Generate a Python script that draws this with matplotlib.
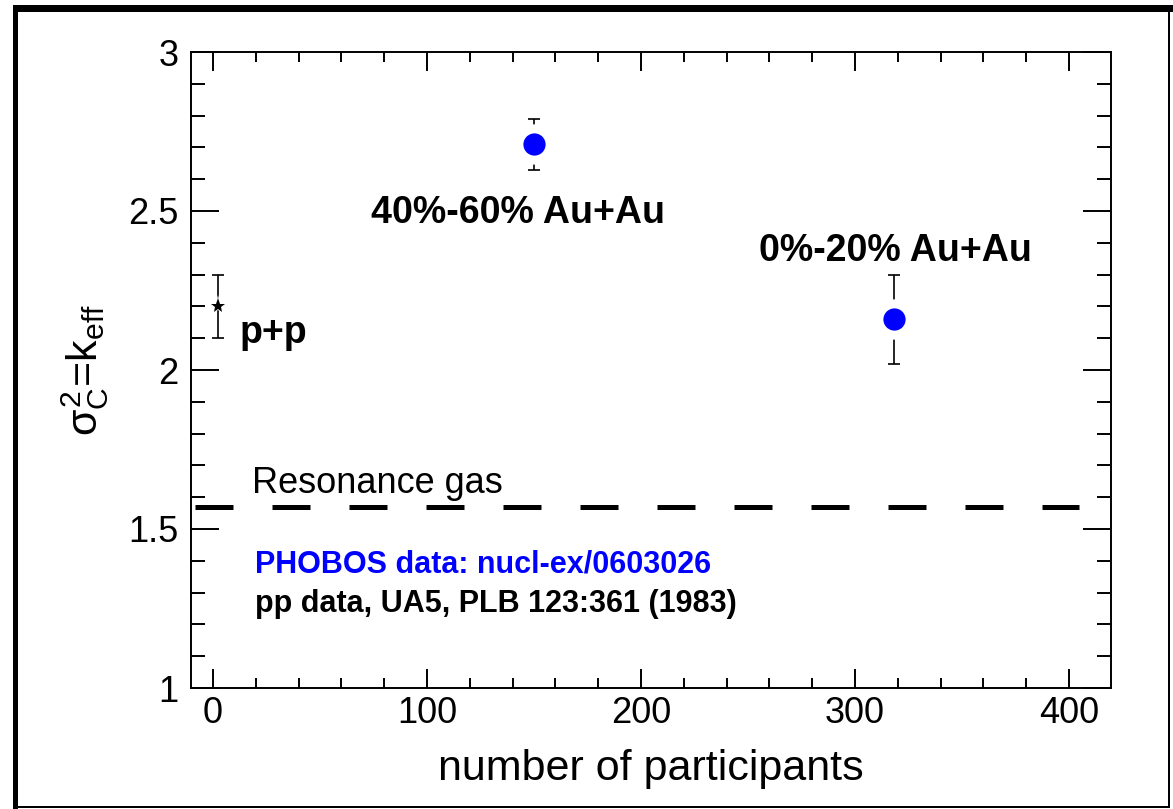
import matplotlib
matplotlib.use("Agg")
import matplotlib.pyplot as plt
from matplotlib.ticker import MultipleLocator, FormatStrFormatter
from matplotlib.patches import Rectangle

plt.rcParams['font.family'] = ['Liberation Sans', 'DejaVu Sans']
plt.rcParams['mathtext.fontset'] = 'custom'
plt.rcParams['mathtext.rm'] = 'Liberation Sans'
plt.rcParams['mathtext.it'] = 'Liberation Sans'
plt.rcParams['mathtext.bf'] = 'Liberation Sans:bold'

# ---- data ----
auau_npart = [150, 318]
auau_keff = [2.71, 2.16]
auau_err = [0.08, 0.14]
auau_labels = ["40%-60% Au+Au", "0%-20% Au+Au"]

pp_npart = [2.3]
pp_keff = [2.20]
pp_err = [0.10]

resonance_gas = 1.57
resonance_range = [-8.5, 404.5]

x_ticks = [0, 100, 200, 300, 400]
y_ticks = [1, 1.5, 2, 2.5, 3]

W, H = 1173, 809
fig = plt.figure(figsize=(W / 100, H / 100), dpi=100)
ax = fig.add_axes([191 / W, 1 - 688 / H, (1111 - 191) / W, (688 - 52) / H])

ax.set_xlim(-10.3, 419.6)
ax.set_ylim(1, 3)

# resonance gas line
ax.plot(resonance_range, [resonance_gas, resonance_gas], color='black',
        lw=3.6, linestyle=(0, (7.6, 7.8)), solid_capstyle='butt',
        dash_capstyle='butt', zorder=2)

# Au+Au points with gap around markers
ax.errorbar(auau_npart, auau_keff, yerr=auau_err, fmt='none', ecolor='black',
            elinewidth=1.2, capsize=4.3, capthick=1.2, zorder=3)
ax.plot(auau_npart, auau_keff, 'o', color='white', markersize=29,
        markeredgewidth=0, zorder=4)
ax.plot(auau_npart, auau_keff, 'o', color='#0000ff', markersize=16,
        markeredgewidth=0, zorder=5)

# p+p point
ax.errorbar(pp_npart, pp_keff, yerr=pp_err, fmt='none', ecolor='black',
            elinewidth=1.2, capsize=4.3, capthick=1.2, zorder=3)
ax.plot(pp_npart, pp_keff, '*', color='white', markersize=16,
        markeredgewidth=0, zorder=4)
ax.plot(pp_npart, pp_keff, '*', color='black', markersize=11,
        markeredgewidth=0, zorder=5)

# annotations
ax.text(142.5, 2.462, auau_labels[0], fontsize=27, fontweight='bold',
        ha='center', va='baseline')
ax.text(318.7, 2.343, auau_labels[1], fontsize=27, fontweight='bold',
        ha='center', va='baseline')
ax.text(12.6, 2.085, "p+p", fontsize=27, fontweight='bold',
        ha='left', va='baseline')
ax.text(18.2, 1.613, "Resonance gas", fontsize=26, ha='left', va='baseline')
ax.text(19.6, 1.362, "PHOBOS data: nucl-ex/0603026", fontsize=22,
        fontweight='bold', color='#0000ff', ha='left', va='baseline')
ax.text(19.6, 1.239, "pp data, UA5, PLB 123:361 (1983)", fontsize=22,
        fontweight='bold', color='black', ha='left', va='baseline')

# axes styling (ROOT-like)
for sp in ax.spines.values():
    sp.set_linewidth(1.4)
ax.xaxis.set_major_locator(MultipleLocator(100))
ax.xaxis.set_minor_locator(MultipleLocator(20))
ax.yaxis.set_major_locator(MultipleLocator(0.5))
ax.yaxis.set_minor_locator(MultipleLocator(0.1))
ax.set_xticks(x_ticks)
ax.set_yticks(y_ticks)
ax.yaxis.set_major_formatter(FormatStrFormatter('%g'))
ax.tick_params(axis='both', which='both', direction='in', top=True,
               right=True, width=1.4, colors='black')
ax.tick_params(axis='x', which='major', length=13.7, labelsize=26, pad=6)
ax.tick_params(axis='x', which='minor', length=6.9)
ax.tick_params(axis='y', which='major', length=19.9, labelsize=26, pad=9)
ax.tick_params(axis='y', which='minor', length=9.9)

# axis titles
fig.text(651 / W, 1 - 780 / H, "number of participants", fontsize=31,
         ha='center', va='baseline')
fig.text(85 / W, 1 - 370 / H, r'$\sigma^{2}_{C}$=k$_{eff}$', fontsize=31,
         rotation=90, ha='center', va='center')

# canvas border (ROOT style)
def px_rect(x0, y0, x1, y1):
    fig.add_artist(Rectangle((x0 / W, 1 - y1 / H), (x1 - x0) / W,
                             (y1 - y0) / H, transform=fig.transFigure,
                             facecolor='black', edgecolor='none'))

px_rect(13, 5, W, 12)      # top thick
px_rect(13, 5, 18, H)      # left thick
px_rect(1168, 12, 1170, 808)  # right thin
px_rect(13, 806, 1170, 808)   # bottom thin

fig.savefig("out.png", dpi=100)
